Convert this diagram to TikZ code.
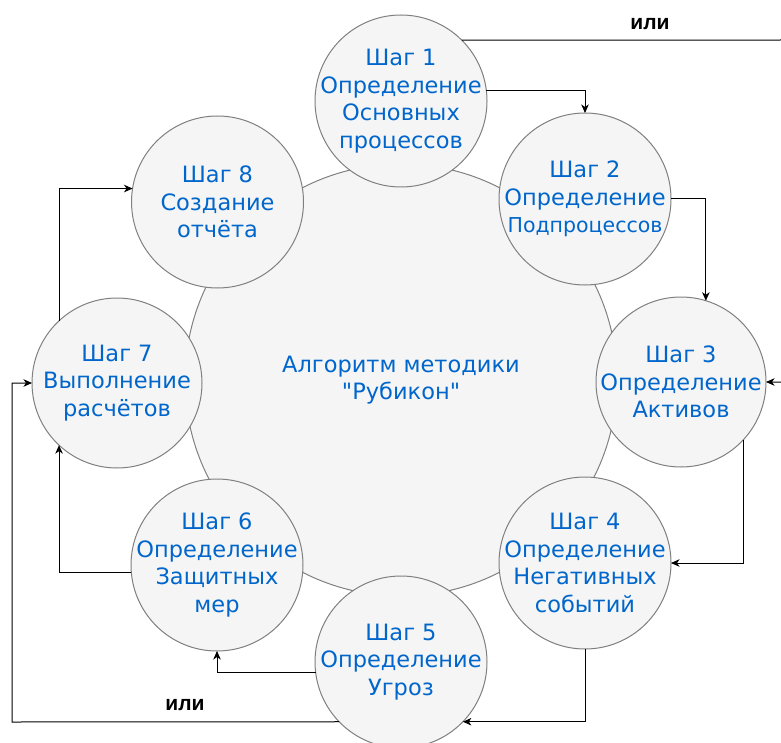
\documentclass[tikz,border=0pt]{standalone}
\usepackage{fontspec}
\newfontfamily\stepfont{DejaVu Sans}
\newfontfamily\orfont{Liberation Sans}
\usetikzlibrary{arrows.meta}

\definecolor{stepblue}{RGB}{0,102,204}
\definecolor{stepfill}{RGB}{245,245,245}
\definecolor{stepline}{RGB}{128,128,128}

\tikzset{
  ring/.style={circle, draw=stepline, fill=stepfill, line width=1pt,
    outer sep=0pt, align=center, text=stepblue,
    font=\stepfont\fontsize{22.5}{27.5}\selectfont},
  % negative inner sep keeps the circle at its minimum size
  stepnode/.style={ring, inner sep=-60pt, minimum size=172pt},
  link/.style={draw=black, line width=1pt,
    -{Stealth[length=8.5pt,width=7.5pt,inset=2.5pt]}},
  ortag/.style={font=\orfont\bfseries\fontsize{21}{24}\selectfont, text=black, inner sep=0pt}
}

\begin{document}
\begin{tikzpicture}[x=1pt, y=-1pt]
  \useasboundingbox (0,0) rectangle (781,743);

  % central circle
  \node[ring, inner sep=0pt, minimum size=432pt] (core) at (401,380)
    {Алгоритм методики\\"Рубикон"};

  % the eight steps
  \node[stepnode] (s1) at (401,101) {Шаг 1\\Определение\\Основных\\процессов};
  \node[stepnode] (s2) at (585,199) {Шаг 2\\Определение\\{\fontsize{20.5}{27.5}\selectfont Подпроцессов}};
  \node[stepnode, minimum size=170pt] (s3) at (681,382) {Шаг 3\\Определение\\Активов};
  \node[stepnode] (s4) at (585,563) {Шаг 4\\Определение\\Негативных\\событий};
  \node[stepnode] (s5) at (401,662) {Шаг 5\\Определение\\Угроз};
  \node[stepnode] (s6) at (217,565) {Шаг 6\\Определение\\Защитных\\мер};
  \node[stepnode, minimum size=170pt] (s7) at (117,383) {Шаг 7\\Выполнение\\расчётов};
  \node[stepnode] (s8) at (217.5,202) {Шаг 8\\Создание\\отчёта};

  % sequence of steps
  \draw[link] (s1.7) -| (s2.north);
  \draw[link] (s2.east) -| (s3.73);
  \draw[link] (s3.-43) |- (s4.east);
  \draw[link] (s4.south) |- (s5.-44);
  \draw[link] (s5.187) -| (s6.south);
  \draw[link] (s6.185) -| (s7.227);
  \draw[link] (s7.133) |- (s8.171);

  % alternative routes
  \coordinate (orR) at (786,40);
  \coordinate (orL) at (12,722);
  \draw[link] (s1.45) -- (orR) |- (s3.east);
  \draw[link] (s5.224) -- (orL) |- (s7.west);

  \node[ortag] (tagR) at (650,24) {или};
  \node[ortag] (tagL) at (185,705) {или};
\end{tikzpicture}
\end{document}
